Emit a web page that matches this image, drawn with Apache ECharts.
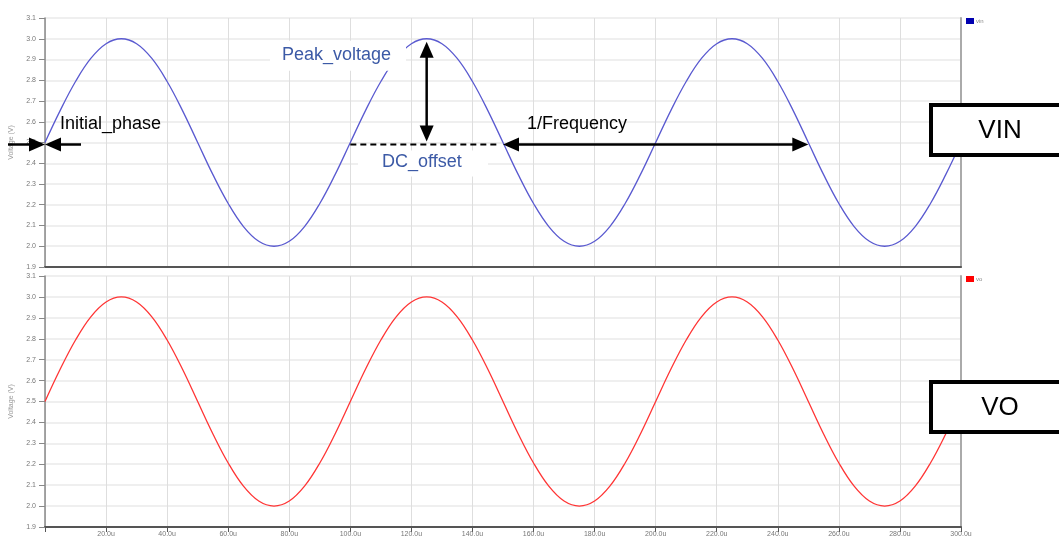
<!DOCTYPE html>
<html>
<head>
<meta charset="utf-8">
<script src="https://cdn.jsdelivr.net/npm/echarts@6/dist/echarts.min.js"></script>
<style>
html,body{margin:0;padding:0;background:#fff;}
#c{width:1059px;height:540px;}
</style>
</head>
<body>
<div id="c"></div>
<script>
// time in microseconds
var timeUs = [0,5,10,15,20,25,30,35,40,45,50,55,60,65,70,75,80,85,90,95,
  100,105,110,115,120,125,130,135,140,145,150,155,160,165,170,175,180,185,190,195,
  200,205,210,215,220,225,230,235,240,245,250,255,260,265,270,275,280,285,290,295,300];
var vinValues = [2.5,2.655,2.794,2.905,2.976,3.0,2.976,2.905,2.794,2.655,2.5,2.345,2.206,2.095,2.024,2.0,2.024,2.095,2.206,2.345,
  2.5,2.655,2.794,2.905,2.976,3.0,2.976,2.905,2.794,2.655,2.5,2.345,2.206,2.095,2.024,2.0,2.024,2.095,2.206,2.345,
  2.5,2.655,2.794,2.905,2.976,3.0,2.976,2.905,2.794,2.655,2.5,2.345,2.206,2.095,2.024,2.0,2.024,2.095,2.206,2.345,2.5];
var voValues = [2.5,2.655,2.794,2.905,2.976,3.0,2.976,2.905,2.794,2.655,2.5,2.345,2.206,2.095,2.024,2.0,2.024,2.095,2.206,2.345,
  2.5,2.655,2.794,2.905,2.976,3.0,2.976,2.905,2.794,2.655,2.5,2.345,2.206,2.095,2.024,2.0,2.024,2.095,2.206,2.345,
  2.5,2.655,2.794,2.905,2.976,3.0,2.976,2.905,2.794,2.655,2.5,2.345,2.206,2.095,2.024,2.0,2.024,2.095,2.206,2.345,2.5];
var seriesNames = ['vin','vo'];
var yAxisName = 'Voltage (V)';
// annotation anchors (data units: us, V)
var dcLevel = 2.5;
var peakLevel = 3.0;
var peakTime = 125;
var periodStart = 150;
var periodEnd = 250;
var dcStart = 100;
var annotationTexts = ['Initial_phase','Peak_voltage','DC_offset','1/Frequency','VIN','VO'];

function pairs(xs, ys){ return xs.map(function(x,i){ return [x, ys[i]]; }); }

var chart = echarts.init(document.getElementById('c'), null, {renderer:'canvas'});
var font = 'Liberation Sans, Arial, sans-serif';

function xAxisCfg(gi, showLabels){
  return {
    type:'value', gridIndex:gi, min:0, max:300, interval:20,
    axisLine:{show:true, onZero:false, lineStyle:{color:'#555', width:2}},
    axisTick:{show:showLabels, length:5, lineStyle:{color:'#555'}},
    axisLabel:{show:showLabels, fontSize:7, color:'#777', margin:4, fontFamily:font,
      formatter:function(v){ return v===0 ? '' : v.toFixed(1)+'u'; }},
    splitLine:{show:true, lineStyle:{color:'#dedede', width:1}}
  };
}
function yAxisCfg(gi){
  return {
    type:'value', gridIndex:gi, min:1.9, max:3.1, interval:0.1,
    name:yAxisName, nameLocation:'middle', nameGap:30, nameRotate:90,
    nameTextStyle:{fontSize:7, color:'#999', fontFamily:font},
    axisLine:{show:true, lineStyle:{color:'#888', width:1.5}},
    axisTick:{show:true, length:6, lineStyle:{color:'#888'}},
    axisLabel:{fontSize:7, color:'#777', margin:9, fontFamily:font,
      formatter:function(v){ return v.toFixed(1); }},
    splitLine:{show:true, lineStyle:{color:'#efefef', width:2}}
  };
}
function rightBorder(gi){
  return {
    type:'value', gridIndex:gi, min:1.9, max:3.1, position:'right',
    axisLine:{show:true, lineStyle:{color:'#aaa', width:2}},
    axisTick:{show:false}, axisLabel:{show:false}, splitLine:{show:false}
  };
}

chart.setOption({
  animation:false,
  backgroundColor:'#fff',
  grid:[
    {left:45, right:98, top:18, height:249},
    {left:45, right:98, top:276, height:251}
  ],
  xAxis:[xAxisCfg(0,false), xAxisCfg(1,true)],
  yAxis:[yAxisCfg(0), yAxisCfg(1), rightBorder(0), rightBorder(1)],
  legend:[
    {data:[{name:seriesNames[0], itemStyle:{color:'#0000b0'}}], left:966, top:18, padding:0,
     icon:'rect', itemWidth:8, itemHeight:6, textStyle:{fontSize:6, color:'#888', fontFamily:font, padding:[0,0,0,-3]}},
    {data:[{name:seriesNames[1], itemStyle:{color:'#ff0000'}}], left:966, top:276, padding:0,
     icon:'rect', itemWidth:8, itemHeight:6, textStyle:{fontSize:6, color:'#888', fontFamily:font, padding:[0,0,0,-3]}}
  ],
  series:[
    {name:seriesNames[0], type:'line', xAxisIndex:0, yAxisIndex:0, data:pairs(timeUs, vinValues),
     showSymbol:false, smooth:0.4, itemStyle:{color:'#0000b0'}, lineStyle:{color:'#5a5ad0', width:1.3}, z:3},
    {name:seriesNames[1], type:'line', xAxisIndex:1, yAxisIndex:1, data:pairs(timeUs, voValues),
     showSymbol:false, smooth:0.4, itemStyle:{color:'#ff0000'}, lineStyle:{color:'#ff3535', width:1.3}, z:3}
  ]
});

function px(gi, x, y){ return chart.convertToPixel({xAxisIndex:gi, yAxisIndex:gi}, [x, y]); }

var HL = 16, HW = 7, LW = 2.5;
function head(tip, from){
  var dx = tip[0]-from[0], dy = tip[1]-from[1];
  var len = Math.sqrt(dx*dx+dy*dy); dx/=len; dy/=len;
  var nx = -dy, ny = dx;
  var bx = tip[0]-dx*HL, by = tip[1]-dy*HL;
  return {type:'polygon', z:100, shape:{points:[[tip[0],tip[1]],[bx+nx*HW,by+ny*HW],[bx-nx*HW,by-ny*HW]]},
          style:{fill:'#000'}};
}
function arrow(p1, p2, h1, h2){
  var dx = p2[0]-p1[0], dy = p2[1]-p1[1];
  var len = Math.sqrt(dx*dx+dy*dy); var ux=dx/len, uy=dy/len;
  var a = h1 ? [p1[0]+ux*(HL-2), p1[1]+uy*(HL-2)] : p1;
  var b = h2 ? [p2[0]-ux*(HL-2), p2[1]-uy*(HL-2)] : p2;
  var els = [{type:'line', z:100, shape:{x1:a[0],y1:a[1],x2:b[0],y2:b[1]}, style:{stroke:'#000', lineWidth:LW}}];
  if(h1) els.push(head(p1, p2));
  if(h2) els.push(head(p2, p1));
  return els;
}
function text(t, x, y, size, color, align){
  return {type:'text', z:101, style:{text:t, x:x, y:y, font:size+'px '+font, fill:color,
    align:align||'left', verticalAlign:'middle'}};
}
function rect(x, y, w, h, stroke, lw){
  return {type:'rect', z:99, shape:{x:x, y:y, width:w, height:h},
    style:{fill:'#fff', stroke:stroke||null, lineWidth:lw||0}};
}

var g = [];
var o = px(0, 0, dcLevel);
o = [o[0], o[1]+2];
// Initial phase arrows
g = g.concat(arrow([o[0]-37, o[1]], [o[0], o[1]], false, true));
g = g.concat(arrow([o[0]+36, o[1]], [o[0], o[1]], false, true));
g.push(text(annotationTexts[0], o[0]+15, o[1]-20, 18, '#000'));
// Peak voltage
var pk = px(0, peakTime, peakLevel), pb = px(0, peakTime, dcLevel);
g.push(rect(270, pk[1]+2, 136, 30));
g.push(text(annotationTexts[1], 282, pk[1]+16, 18, '#3c5aa6'));
g = g.concat(arrow([pk[0], pk[1]+3], [pb[0], pb[1]-1], true, true));
// DC offset
var d1 = px(0, dcStart, dcLevel), d2 = px(0, periodStart, dcLevel);
g.push({type:'line', z:100, shape:{x1:d1[0], y1:d1[1]+2, x2:d2[0]-4, y2:d2[1]+2},
  style:{stroke:'#000', lineWidth:2, lineDash:[6,4]}});
g.push(rect(358, d1[1]+8, 130, 26));
g.push(text(annotationTexts[2], 382, d1[1]+20, 18, '#3c5aa6'));
// 1/Frequency
var f1 = px(0, periodStart, dcLevel), f2 = px(0, periodEnd, dcLevel);
g = g.concat(arrow([f1[0], f1[1]+2], [f2[0], f2[1]+2], true, true));
g.push(text(annotationTexts[3], f1[0]+24, f1[1]-18, 18, '#000'));
// VIN / VO boxes
g.push(rect(931, 105, 150, 50, '#000', 4));
g.push(text(annotationTexts[4], 1000, 131, 26, '#000', 'center'));
g.push(rect(931, 382, 150, 50, '#000', 4));
g.push(text(annotationTexts[5], 1000, 408, 26, '#000', 'center'));

chart.setOption({graphic:g});
</script>
</body>
</html>
